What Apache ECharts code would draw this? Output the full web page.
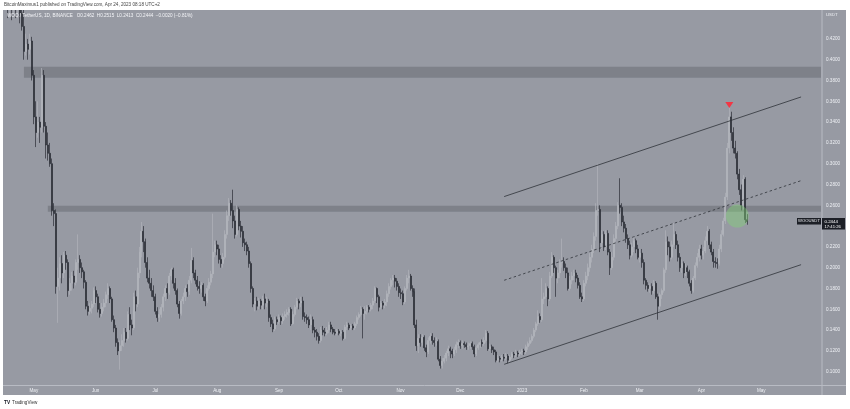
<!DOCTYPE html>
<html><head><meta charset="utf-8">
<script src="https://cdn.jsdelivr.net/npm/echarts@6/dist/echarts.min.js"></script>
<style>html,body{margin:0;padding:0;background:#fff;}#c{width:850px;height:409px;}</style>
</head><body><div id="c"></div>
<script>
// ---- categories: one per day, 2022-04-16 .. 2023-05-31 ----
const startDate = '2022-04-16';
const dayCount = 411;
const categories = [];
(function(){const t0=Date.parse(startDate+'T00:00:00Z');for(let i=0;i<dayCount;i++){categories.push(new Date(t0+i*86400000).toISOString().slice(0,10));}})();

// ---- daily candles [open, close, low, high], starting 2022-04-16 ----
const candlesApr22 = [
[.47,.465,.455,.48],[.465,.47,.455,.48],[.47,.455,.44,.48],[.455,.46,.44,.47],[.46,.452,.438,.47],
[.452,.458,.445,.47],[.458,.45,.44,.465],[.45,.455,.44,.465],[.455,.445,.435,.46],[.445,.432,.428,.452],
[.432,.408,.40,.45],[.408,.415,.404,.425],[.415,.41,.40,.42],[.41,.418,.405,.425],[.418,.385,.38,.422]];
const candlesMay22 = [
[.385,.345,.338,.39],[.345,.33,.316,.36],[.33,.34,.325,.36],[.34,.335,.32,.345],[.335,.385,.33,.392],
[.385,.336,.33,.39],[.336,.318,.305,.34],[.318,.31,.303,.33],[.31,.30,.297,.32],[.30,.255,.25,.305],
[.255,.252,.24,.262],[.252,.182,.175,.256],[.182,.19,.147,.20],[.19,.204,.178,.21],[.204,.195,.185,.212],
[.195,.212,.19,.215],[.212,.205,.198,.216],[.205,.178,.172,.208],[.178,.185,.174,.19],[.185,.192,.178,.196],
[.192,.186,.18,.197],[.186,.205,.183,.208],[.205,.208,.198,.232],[.208,.2,.195,.212],[.2,.196,.19,.205],
[.196,.186,.18,.198],[.186,.163,.16,.188],[.163,.158,.154,.168],[.158,.161,.155,.166],[.161,.165,.156,.168],
[.165,.178,.162,.181]];
const candlesJun22 = [
[.178,.172,.166,.182],[.172,.16,.157,.175],[.16,.156,.152,.166],[.156,.162,.153,.166],[.162,.166,.158,.17],
[.166,.174,.162,.177],[.174,.18,.17,.185],[.18,.17,.166,.182],[.17,.15,.148,.172],[.15,.142,.138,.154],
[.142,.128,.124,.145],[.128,.12,.116,.132],[.12,.125,.102,.13],[.125,.13,.12,.136],[.13,.138,.124,.142],
[.138,.132,.128,.142],[.132,.155,.13,.158],[.155,.145,.14,.162],[.145,.142,.135,.15],[.142,.172,.14,.176],
[.172,.165,.158,.178],[.165,.195,.162,.2],[.195,.215,.19,.22],[.215,.235,.21,.244],[.235,.225,.215,.24],
[.225,.205,.2,.228],[.205,.19,.186,.21],[.19,.185,.18,.198],[.185,.178,.172,.19],[.178,.172,.168,.183]];
const candlesJul22 = [
[.172,.158,.155,.175],[.158,.152,.148,.162],[.152,.155,.148,.16],[.155,.162,.152,.165],[.162,.172,.158,.175],
[.172,.18,.168,.183],[.18,.176,.17,.185],[.176,.192,.174,.195],[.192,.198,.188,.2],[.198,.185,.18,.2],
[.185,.178,.174,.19],[.178,.165,.162,.18],[.165,.156,.151,.168],[.156,.168,.154,.17],[.168,.172,.165,.176],
[.172,.18,.168,.183],[.18,.177,.172,.184],[.177,.188,.174,.192],[.188,.207,.185,.219],[.207,.195,.19,.21],
[.195,.188,.184,.198],[.188,.182,.178,.192],[.182,.18,.175,.187],[.18,.183,.176,.186],[.183,.172,.168,.185],
[.172,.168,.163,.175],[.168,.18,.166,.183],[.18,.186,.178,.19],[.186,.194,.183,.197],[.194,.215,.19,.252],
[.215,.222,.21,.226]];
const candlesAug22 = [
[.222,.218,.212,.226],[.218,.208,.204,.222],[.208,.204,.2,.212],[.204,.21,.2,.214],[.21,.232,.208,.236],
[.232,.25,.228,.255],[.25,.262,.245,.267],[.262,.255,.25,.265],[.255,.245,.238,.275],[.245,.232,.228,.25],
[.232,.256,.23,.26],[.256,.24,.236,.258],[.24,.235,.229,.245],[.235,.224,.22,.24],[.224,.222,.216,.228],
[.222,.216,.212,.225],[.216,.204,.2,.22],[.204,.18,.176,.206],[.18,.165,.162,.182],[.165,.168,.158,.171],
[.168,.163,.159,.172],[.163,.168,.16,.171],[.168,.164,.16,.17],[.164,.17,.16,.173],[.17,.166,.16,.175],
[.166,.168,.162,.172],[.168,.152,.148,.17],[.152,.146,.143,.155],[.146,.141,.138,.15],[.141,.15,.139,.153],
[.15,.148,.145,.153]];
const candlesSep22 = [
[.148,.152,.146,.155],[.152,.149,.145,.154],[.149,.153,.146,.156],[.153,.155,.15,.158],[.155,.157,.152,.16],
[.157,.16,.154,.162],[.16,.146,.144,.162],[.146,.155,.145,.158],[.155,.162,.153,.164],[.162,.168,.16,.171],
[.168,.166,.16,.17],[.166,.168,.162,.172],[.168,.153,.15,.172],[.153,.152,.148,.157],[.152,.15,.146,.155],
[.15,.145,.142,.153],[.145,.15,.14,.155],[.15,.14,.137,.153],[.14,.138,.133,.143],[.138,.134,.13,.141],
[.134,.13,.127,.137],[.13,.14,.128,.143],[.14,.138,.135,.144],[.138,.137,.134,.142],[.137,.14,.135,.143],
[.14,.145,.137,.148],[.145,.141,.138,.148],[.141,.138,.136,.143],[.138,.137,.135,.141],[.137,.139,.135,.141]];
const candlesOct22 = [
[.139,.137,.135,.141],[.137,.138,.134,.14],[.138,.132,.13,.14],[.132,.143,.131,.145],[.143,.145,.14,.148],
[.145,.142,.14,.147],[.142,.144,.14,.146],[.144,.142,.14,.146],[.142,.146,.14,.148],[.146,.152,.144,.154],
[.152,.155,.15,.157],[.155,.16,.153,.163],[.16,.156,.132,.162],[.156,.158,.15,.163],[.158,.162,.155,.164],
[.162,.16,.157,.164],[.16,.164,.158,.166],[.164,.168,.16,.171],[.168,.18,.166,.182],[.18,.172,.166,.181],
[.172,.162,.158,.174],[.162,.166,.16,.168],[.166,.164,.16,.168],[.164,.167,.161,.17],[.167,.175,.163,.178],
[.175,.182,.172,.185],[.182,.188,.179,.19],[.188,.19,.183,.193],[.19,.187,.181,.193],[.187,.182,.178,.19],
[.182,.176,.172,.185]];
const candlesNov22 = [
[.176,.175,.17,.18],[.175,.167,.164,.178],[.167,.18,.165,.182],[.18,.19,.178,.193],[.19,.192,.185,.198],
[.192,.18,.178,.194],[.18,.177,.172,.183],[.177,.145,.142,.18],[.145,.125,.12,.15],[.125,.132,.118,.136],
[.132,.128,.124,.136],[.128,.133,.125,.136],[.133,.123,.12,.135],[.123,.119,.114,.126],[.119,.13,.117,.133],
[.13,.134,.127,.137],[.134,.13,.126,.137],[.13,.128,.124,.133],[.128,.129,.125,.133],[.129,.112,.11,.131],
[.112,.106,.103,.115],[.106,.11,.103,.113],[.11,.113,.108,.116],[.113,.118,.11,.12],[.118,.122,.115,.125],
[.122,.12,.113,.124],[.12,.117,.113,.122],[.117,.121,.115,.124],[.121,.126,.118,.129],[.126,.128,.123,.131]];
const candlesDec22 = [
[.128,.125,.122,.13],[.125,.127,.122,.13],[.127,.126,.123,.129],[.126,.124,.121,.128],[.124,.125,.121,.128],
[.125,.127,.122,.129],[.127,.124,.121,.129],[.124,.117,.114,.126],[.117,.123,.115,.125],[.123,.126,.121,.128],
[.126,.128,.123,.13],[.128,.127,.124,.131],[.127,.13,.125,.133],[.13,.137,.128,.14],[.137,.122,.12,.139],
[.122,.124,.12,.127],[.124,.121,.118,.126],[.121,.119,.116,.124],[.119,.111,.109,.121],[.111,.113,.109,.116],
[.113,.112,.109,.115],[.112,.114,.11,.116],[.114,.113,.11,.117],[.113,.115,.111,.118],[.115,.111,.108,.117],
[.111,.114,.109,.116],[.114,.117,.112,.119],[.117,.116,.113,.119],[.116,.118,.114,.121],[.118,.117,.114,.12],
[.117,.119,.115,.121]];
const candlesJan23 = [
[.119,.12,.116,.122],[.12,.119,.116,.122],[.119,.124,.117,.126],[.124,.127,.121,.129],[.127,.13,.125,.133],
[.13,.134,.128,.136],[.134,.14,.132,.142],[.14,.146,.138,.148],[.146,.153,.144,.159],[.153,.15,.147,.156],
[.15,.17,.148,.19],[.17,.172,.165,.176],[.172,.18,.17,.185],[.18,.17,.163,.182],[.17,.192,.168,.196],
[.192,.21,.19,.215],[.21,.2,.195,.212],[.2,.19,.172,.202],[.19,.195,.185,.198],[.195,.205,.19,.208],
[.205,.206,.2,.228],[.206,.2,.197,.21],[.2,.195,.19,.204],[.195,.18,.178,.2],[.18,.188,.178,.192],
[.188,.192,.184,.196],[.192,.195,.188,.198],[.195,.19,.186,.198],[.19,.183,.18,.193],[.183,.172,.17,.186],
[.172,.17,.167,.176]];
const candlesFeb23 = [
[.17,.185,.168,.188],[.185,.192,.182,.196],[.192,.2,.188,.204],[.2,.21,.196,.214],[.21,.218,.205,.222],
[.218,.23,.214,.234],[.23,.255,.226,.262],[.255,.256,.25,.30],[.256,.224,.215,.26],[.224,.232,.218,.236],
[.232,.22,.216,.235],[.22,.233,.217,.236],[.233,.215,.212,.236],[.215,.2,.193,.218],[.2,.21,.198,.215],
[.21,.228,.207,.232],[.228,.24,.225,.244],[.24,.26,.237,.263],[.26,.258,.252,.286],[.258,.244,.24,.262],
[.244,.238,.234,.25],[.238,.228,.224,.242],[.228,.222,.218,.232],[.222,.212,.208,.226],[.212,.22,.21,.224],
[.22,.226,.215,.23],[.226,.218,.214,.228],[.218,.21,.208,.222]];
const candlesMar23 = [
[.21,.214,.205,.218],[.214,.205,.2,.218],[.205,.188,.184,.208],[.188,.183,.179,.19],[.183,.18,.177,.186],
[.18,.182,.176,.185],[.182,.178,.174,.185],[.178,.185,.175,.188],[.185,.172,.17,.187],[.172,.163,.15,.175],
[.163,.174,.16,.176],[.174,.178,.17,.18],[.178,.198,.176,.2],[.198,.225,.195,.236],[.225,.22,.212,.23],
[.22,.21,.206,.225],[.21,.222,.208,.226],[.222,.232,.22,.243],[.232,.222,.218,.235],[.222,.21,.206,.226],
[.21,.2,.196,.214],[.2,.204,.195,.208],[.204,.195,.19,.206],[.195,.2,.192,.204],[.2,.196,.19,.202],
[.196,.185,.182,.198],[.185,.178,.175,.188],[.178,.19,.176,.192],[.19,.202,.188,.205],[.202,.21,.2,.214],
[.21,.218,.206,.222]];
const candlesApr23 = [
[.218,.212,.208,.222],[.212,.216,.208,.22],[.216,.226,.214,.23],[.226,.235,.222,.24],[.235,.222,.218,.237],
[.222,.215,.212,.225],[.215,.206,.2,.218],[.206,.205,.2,.21],[.205,.204,.199,.209],[.204,.218,.202,.222],
[.218,.232,.215,.236],[.232,.245,.23,.248],[.245,.268,.242,.272],[.268,.315,.265,.32],[.315,.345,.31,.355],
[.345,.33,.322,.35],[.33,.315,.31,.335],[.315,.31,.305,.322],[.31,.29,.285,.312],[.29,.275,.27,.295],
[.275,.26,.255,.28],[.26,.285,.256,.289],[.285,.2462,.243,.287],[.2462,.2444,.2413,.2515]];

const candles = [].concat(candlesApr22,candlesMay22,candlesJun22,candlesJul22,candlesAug22,candlesSep22,
  candlesOct22,candlesNov22,candlesDec22,candlesJan23,candlesFeb23,candlesMar23,candlesApr23);

// ---- axis ----
const priceTicks = [0.10,0.12,0.14,0.16,0.18,0.20,0.22,0.24,0.26,0.28,0.30,0.32,0.34,0.36,0.38,0.40,0.42];
const yMin = 0.0872, yMax = 0.4478;
const monthNames = ['2023','Feb','Mar','Apr','May','Jun','Jul','Aug','Sep','Oct','Nov','Dec'];

// ---- annotations ----
const zoneStarts = ['2022-04-26','2022-05-08'];
const zoneLows = [0.3827, 0.2538];
const zoneHighs = [0.3933, 0.2596];
const channelStart = '2022-12-23', channelEnd = '2023-05-21';
const upperLine = [0.2684, 0.3642];
const midLine = [0.1879, 0.2837];
const lowerLine = [0.1071, 0.2029];
const peakMarker = ['2023-04-15', 0.3565];
const retestMarker = ['2023-04-19', 0.2497];
const lastClose = 0.2444;

const FONT = 'Liberation Sans, Arial, sans-serif';
const chart = echarts.init(document.getElementById('c'));
const lineCol = '#2f3239';

chart.setOption({
  animation: false,
  backgroundColor: '#979aa3',
  grid: {left: 3, right: 28, top: 10, bottom: 24},
  xAxis: {
    type: 'category', data: categories, boundaryGap: true,
    axisLine: {show: false}, axisTick: {show: false}, splitLine: {show: false},
    axisLabel: {
      interval: (i, v) => v.slice(8) === '01',
      formatter: v => monthNames[parseInt(v.slice(5,7),10) - 1],
      color: '#eef0f4', fontSize: 4.6, fontFamily: FONT, margin: 3
    }
  },
  yAxis: {
    type: 'value', position: 'right', min: yMin, max: yMax,
    axisLine: {show: false}, axisTick: {show: false}, splitLine: {show: false},
    axisLabel: {customValues: priceTicks, formatter: v => v.toFixed(4), color: '#eef0f4', fontSize: 4.6, fontFamily: FONT, margin: 4}
  },
  series: [{
    type: 'candlestick', data: candles, clip: true, barWidth: 1.5,
    itemStyle: {color: '#c3c6cc', color0: '#2a2d35', borderColor: '#b0b3ba', borderColor0: '#2a2d35', borderWidth: 0.7},
    markArea: {
      silent: true, itemStyle: {color: 'rgba(60,63,72,0.28)'},
      data: zoneStarts.map((s, k) => [{xAxis: s, yAxis: zoneHighs[k]}, {xAxis: categories[categories.length-1], yAxis: zoneLows[k]}])
    },
    markLine: {
      silent: true, symbol: ['none','none'], label: {show: false}, animation: false,
      data: [
        [{coord: [channelStart, upperLine[0]], lineStyle: {color: lineCol, width: 0.8, type: 'solid'}}, {coord: [channelEnd, upperLine[1]]}],
        [{coord: [channelStart, midLine[0]], lineStyle: {color: lineCol, width: 0.8, type: [2.5, 2.5]}}, {coord: [channelEnd, midLine[1]]}],
        [{coord: [channelStart, lowerLine[0]], lineStyle: {color: lineCol, width: 0.8, type: 'solid'}}, {coord: [channelEnd, lowerLine[1]]}]
      ]
    },
    markPoint: {
      silent: true, label: {show: false},
      data: [
        {coord: peakMarker, symbol: 'triangle', symbolRotate: 180, symbolSize: [8, 6], itemStyle: {color: '#f23645'}},
        {coord: retestMarker, symbol: 'circle', symbolSize: 23, itemStyle: {color: 'rgba(130,215,120,0.42)'}}
      ]
    }
  }]
});

const yLast = chart.convertToPixel({yAxisIndex: 0}, lastClose);
chart.setOption({
  graphic: [
    {type: 'rect', shape: {x: 0, y: 0, width: 850, height: 10}, style: {fill: '#fff'}, z: 100, silent: true},
    {type: 'rect', shape: {x: 0, y: 395, width: 850, height: 14}, style: {fill: '#fff'}, z: 100, silent: true},
    {type: 'rect', shape: {x: 0, y: 0, width: 3, height: 409}, style: {fill: '#fff'}, z: 100, silent: true},
    {type: 'rect', shape: {x: 846, y: 0, width: 4, height: 409}, style: {fill: '#fff'}, z: 100, silent: true},
    {type: 'line', shape: {x1: 822, y1: 10, x2: 822, y2: 395}, style: {stroke: '#b8bbc3', lineWidth: 1}, z: 90, silent: true},
    {type: 'line', shape: {x1: 3, y1: 385.5, x2: 846, y2: 385.5}, style: {stroke: '#b8bbc3', lineWidth: 1}, z: 90, silent: true},
    {type: 'text', x: 4, y: 5, style: {text: 'BitcoinMaximus1 published on TradingView.com, Apr 24, 2023 08:18 UTC+2', fill: '#444', font: '4.6px ' + FONT, textVerticalAlign: 'middle'}, z: 101, silent: true},
    {type: 'text', x: 7, y: 16, style: {text: 'WOO / TetherUS, 1D, BINANCE   O0.2462  H0.2515  L0.2413  C0.2444  \u22120.0020 (\u22120.81%)', fill: '#f4f5f8', font: '4.6px ' + FONT, textVerticalAlign: 'middle'}, z: 101, silent: true},
    {type: 'text', x: 826, y: 15, style: {text: 'USDT', fill: '#eef0f4', font: '4.3px ' + FONT, textVerticalAlign: 'middle'}, z: 101, silent: true},
    {type: 'rect', shape: {x: 797, y: yLast - 3.5, width: 24, height: 6.5}, style: {fill: '#1c1f26'}, z: 95, silent: true},
    {type: 'text', x: 809, y: yLast - 0.2, style: {text: 'WOOUSDT', fill: '#e8eaee', font: '4.2px ' + FONT, textAlign: 'center', textVerticalAlign: 'middle'}, z: 96, silent: true},
    {type: 'rect', shape: {x: 822, y: yLast - 3.5, width: 23, height: 11.5}, style: {fill: '#1c1f26'}, z: 95, silent: true},
    {type: 'text', x: 824.5, y: yLast - 0.2, style: {text: lastClose.toFixed(4), fill: '#ffffff', font: '4.4px ' + FONT, textVerticalAlign: 'middle'}, z: 96, silent: true},
    {type: 'text', x: 824.5, y: yLast + 5, style: {text: '17:41:26', fill: '#ffffff', font: '4.2px ' + FONT, textVerticalAlign: 'middle'}, z: 96, silent: true},
    {type: 'text', x: 4, y: 403, style: {text: 'TV', fill: '#131722', font: 'bold 4.8px ' + FONT, textVerticalAlign: 'middle'}, z: 101, silent: true},
    {type: 'text', x: 12, y: 403, style: {text: 'TradingView', fill: '#333', font: '4.6px ' + FONT, textVerticalAlign: 'middle'}, z: 101, silent: true}
  ]
});
</script></body></html>
